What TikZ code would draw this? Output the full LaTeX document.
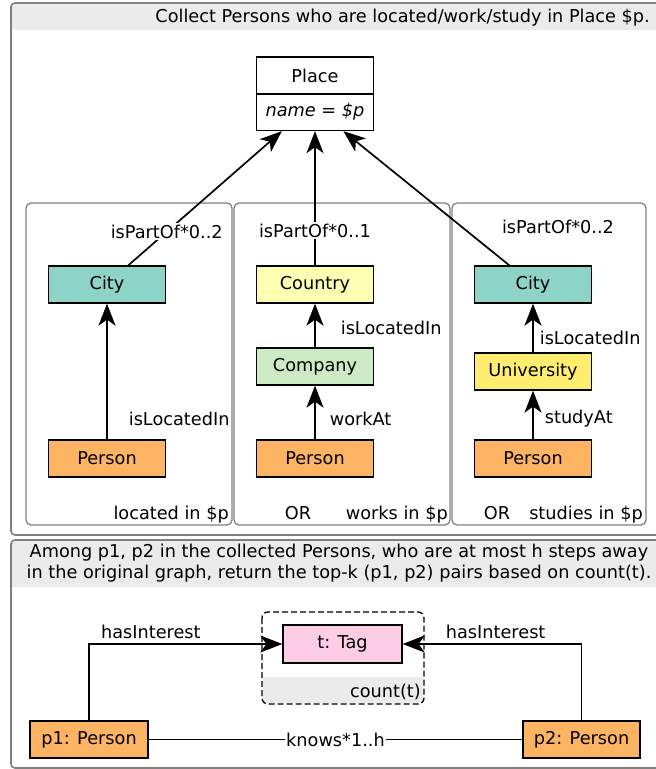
\documentclass[tikz,border=0pt]{standalone}
\usepackage{fontspec}
\setmainfont{DejaVu Sans}
\usetikzlibrary{arrows.meta,positioning,calc}
\definecolor{citycol}{HTML}{8DD3C7}
\definecolor{personcol}{HTML}{FDB462}
\definecolor{countrycol}{HTML}{FFFFB3}
\definecolor{companycol}{HTML}{CCEBC5}
\definecolor{univcol}{HTML}{FFED6F}
\definecolor{tagcol}{HTML}{FCCDE5}
\definecolor{bandcol}{HTML}{EBEBEB}

\begin{document}
\begin{tikzpicture}[x=1pt,y=-1pt,font=\fontsize{17.7}{21}\selectfont,
		every node/.style={inner sep=2pt},
		ent/.style={draw, line width=1.3pt, minimum width=117pt, minimum height=37pt},
		rel/.style={-{Stealth[length=22pt,width=17pt,inset=6pt]}, line width=1.7pt},
		edgelbl/.style={fill=white, inner sep=1.5pt},
		panel/.style={draw=black!50, line width=1.3pt, rounded corners=5pt},
		frame/.style={draw=black!50, line width=1.6pt, rounded corners=4pt}]
	\useasboundingbox (0,0) rectangle (656,769);
	\clip (0,0) rectangle (656,769);
	% upper frame: collect persons
	\fill[bandcol] (11,30) [rounded corners=4pt] |- (662,3) [sharp corners] -- (662,30) -- cycle;
	\draw[frame] (11,3) rectangle (662,535);
	\node[anchor=base east] (ttl1) at (652,22.5) {Collect Persons who are located/work/study in Place \$p.};
	\draw[panel] (26,203) rectangle (232,525);
	\draw[panel] (234,203) rectangle (450,525);
	\draw[panel] (452,203) rectangle (646,525);

	\node[ent] (place) at (315,75.5) {Place};
	\node[ent] (pname) at (315,112) {\textit{name = \$p}};

	\node[ent, fill=citycol] (city1) at (107,284.5) {City};
	\node[ent, fill=personcol] (person1) at (107,458.5) {Person};
	\node[ent, fill=countrycol] (country) at (315,284.5) {Country};
	\node[ent, fill=companycol] (company) at (315,366.5) {Company};
	\node[ent, fill=personcol] (person2) at (315,458.5) {Person};
	\node[ent, fill=citycol] (city3) at (533,284.5) {City};
	\node[ent, fill=univcol] (univ) at (533,371.5) {University};
	\node[ent, fill=personcol] (person3) at (533,458.5) {Person};

	\draw[rel] ($(city1.north west)!0.68!(city1.north east)$) -- node[edgelbl, pos=0.25] {isPartOf*0..2} ($(pname.south west)!0.22!(pname.south east)$);
	\draw[rel] (country) -- node[edgelbl, pos=0.26] {isPartOf*0..1} (pname);
	\draw[rel] ($(city3.north west)!0.3!(city3.north east)$) -- node[pos=0.29, right=38pt] {isPartOf*0..2} ($(pname.south west)!0.74!(pname.south east)$);

	\draw[rel] (person1) -- node[pos=0.15, right=19pt] {isLocatedIn} (city1);
	\draw[rel] (company) -- node[pos=0.44, right=23pt] {isLocatedIn} (country);
	\draw[rel] (person2) -- node[pos=0.38, right=12pt] {workAt} (company);
	\draw[rel] (univ) -- node[pos=0.3, right=4pt] {isLocatedIn} (city3);
	\draw[rel] (person3) -- node[pos=0.42, right=9pt] {studyAt} (univ);

	\node[anchor=base east] (loc1) at (231,519) {located in \$p};
	\node[anchor=base] (or2) at (298,519) {OR};
	\node[anchor=base east] (loc2) at (450,519) {works in \$p};
	\node[anchor=base] (or3) at (497,519) {OR};
	\node[anchor=base east] (loc3) at (645,519) {studies in \$p};

	% lower frame: top-k pairs
	\fill[bandcol] (11,587) [rounded corners=4pt] |- (662,540) [sharp corners] -- (662,587) -- cycle;
	\draw[frame] (11,540) rectangle (662,768);
	\node[align=center] (ttl2) at (339,563) {Among p1, p2 in the collected Persons, who are at most h steps away\\in the original graph, return the top-k (p1, p2) pairs based on count(t).};

	\fill[bandcol] (263,677) [rounded corners=5pt] |- (423,703) [sharp corners] -- (423,677) -- cycle;
	\draw[dashed, line width=1.3pt, rounded corners=6pt, dash pattern=on 6pt off 3pt] (262,612) rectangle (424,704);
	\node[anchor=base east] (cnt) at (423,697) {count(t)};

	\node[ent, fill=tagcol, minimum width=119pt, minimum height=38pt] (tag) at (342.5,644) {t: Tag};
	\node[ent, fill=personcol, minimum width=118pt] (p1) at (89,739.5) {p1: Person};
	\node[ent, fill=personcol] (p2) at (581.5,739.5) {p2: Person};

	\draw[rel] (p1.north) |- node[pos=0.66, above=2pt] {hasInterest} (tag.west);
	\draw[rel] (p2.north) |- node[pos=0.74, above=2pt] {hasInterest} (tag.east);
	\draw[line width=1.3pt] (p1) -- node[edgelbl] {knows*1..h} (p2);
\end{tikzpicture}
\end{document}
